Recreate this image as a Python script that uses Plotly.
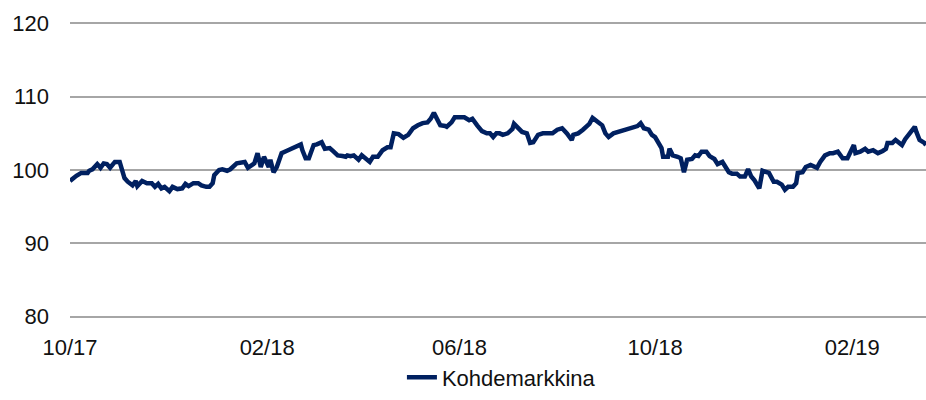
import plotly.graph_objects as go

series_name = "Kohdemarkkina"

dates = [
    "2017-10-01","2017-10-03","2017-10-05","2017-10-08","2017-10-12","2017-10-13","2017-10-15","2017-10-18",
    "2017-10-20","2017-10-22","2017-10-24","2017-10-26","2017-10-29","2017-11-01","2017-11-02","2017-11-04",
    "2017-11-06","2017-11-09","2017-11-11","2017-11-12","2017-11-15","2017-11-18","2017-11-21","2017-11-23",
    "2017-11-25","2017-11-27","2017-11-29","2017-12-02","2017-12-04","2017-12-07","2017-12-10","2017-12-12",
    "2017-12-14","2017-12-17","2017-12-20","2017-12-22","2017-12-25",
    "2017-12-27","2017-12-29","2017-12-30","2018-01-02","2018-01-04","2018-01-07","2018-01-09","2018-01-13",
    "2018-01-16","2018-01-18","2018-01-20","2018-01-23","2018-01-24","2018-01-26","2018-01-28","2018-01-30",
    "2018-02-02","2018-02-03","2018-02-05","2018-02-07","2018-02-10","2018-02-13","2018-02-17","2018-02-19",
    "2018-02-22","2018-02-23","2018-02-25","2018-02-27","2018-03-02","2018-03-04","2018-03-07","2018-03-09",
    "2018-03-12","2018-03-14","2018-03-17","2018-03-20","2018-03-22","2018-03-23",
    "2018-03-25","2018-03-27","2018-03-30","2018-04-01","2018-04-03","2018-04-06","2018-04-08","2018-04-11",
    "2018-04-14","2018-04-17","2018-04-19","2018-04-21","2018-04-24","2018-04-27","2018-04-30","2018-05-03",
    "2018-05-06","2018-05-09","2018-05-12","2018-05-14","2018-05-16","2018-05-18","2018-05-20","2018-05-23",
    "2018-05-24","2018-05-27","2018-05-29","2018-06-01","2018-06-04","2018-06-07","2018-06-09","2018-06-12",
    "2018-06-15","2018-06-18",
    "2018-06-20","2018-06-22","2018-06-24","2018-06-26","2018-06-28","2018-07-01","2018-07-04","2018-07-05",
    "2018-07-08","2018-07-10","2018-07-13","2018-07-15","2018-07-17","2018-07-20","2018-07-23","2018-07-26",
    "2018-07-29","2018-08-01","2018-08-04","2018-08-07","2018-08-10","2018-08-11","2018-08-14","2018-08-17",
    "2018-08-20","2018-08-21","2018-08-23","2018-08-26","2018-08-29","2018-08-31","2018-09-02","2018-09-05",
    "2018-09-08","2018-09-11",
    "2018-09-14","2018-09-17","2018-09-20","2018-09-22","2018-09-24","2018-09-27","2018-09-29","2018-10-01",
    "2018-10-03","2018-10-05","2018-10-06","2018-10-09","2018-10-10","2018-10-12","2018-10-15","2018-10-17",
    "2018-10-19","2018-10-21","2018-10-24","2018-10-26","2018-10-28","2018-10-30","2018-11-02","2018-11-04",
    "2018-11-07","2018-11-09","2018-11-12","2018-11-14","2018-11-16","2018-11-18","2018-11-21","2018-11-23",
    "2018-11-26","2018-11-28","2018-11-30","2018-12-02","2018-12-05","2018-12-07","2018-12-09","2018-12-11",
    "2018-12-14",
    "2018-12-16","2018-12-19","2018-12-21","2018-12-23","2018-12-26","2018-12-28","2018-12-29","2019-01-01",
    "2019-01-03","2019-01-06","2019-01-08","2019-01-10","2019-01-12","2019-01-15","2019-01-18","2019-01-20",
    "2019-01-23","2019-01-26","2019-01-29","2019-01-31","2019-02-02","2019-02-03","2019-02-06","2019-02-09",
    "2019-02-11","2019-02-14","2019-02-17","2019-02-20","2019-02-22","2019-02-23","2019-02-26","2019-02-28",
    "2019-03-02","2019-03-04","2019-03-06","2019-03-08","2019-03-10","2019-03-12","2019-03-13","2019-03-15",
    "2019-03-18","2019-03-19",
]

values = [
    98.5, 98.9, 99.2, 99.6, 99.6, 99.9, 100.1, 100.8,
    100.3, 100.9, 100.8, 100.3, 101.1, 101.1, 100.4, 98.9,
    98.4, 97.9, 98.5, 97.8, 98.5, 98.2, 98.2, 97.7,
    98.1, 97.5, 97.7, 97.1, 97.7, 97.4, 97.5, 98.1,
    97.8, 98.2, 98.2, 97.9, 97.7,
    97.7, 98.2, 99.3, 100.0, 100.1, 99.9, 100.1, 100.9,
    101.1, 101.1, 100.3, 100.9, 100.9, 102.3, 100.4, 101.8,
    100.4, 101.4, 99.7, 100.4, 102.3, 102.6, 103.0, 103.3,
    103.5, 102.7, 101.6, 101.6, 103.4, 103.5, 103.8, 102.9,
    103.0, 102.6, 102.0, 101.9, 101.8, 102.0,
    101.9, 102.0, 101.4, 102.0, 101.6, 101.1, 101.8, 101.8,
    102.7, 103.1, 103.1, 105.0, 104.9, 104.4, 104.8, 105.7,
    106.1, 106.4, 106.5, 107.0, 107.8, 107.0, 106.1, 106.0,
    105.9, 106.5, 107.2, 107.2, 107.2, 106.8, 107.0, 106.1,
    105.3, 105.0,
    105.0, 104.5, 105.0, 105.0, 104.8, 105.0, 105.6, 106.3,
    105.7, 105.2, 105.0, 103.7, 103.8, 104.8, 105.0, 105.0,
    105.0, 105.5, 105.7, 105.0, 104.1, 104.8, 105.0, 105.5,
    106.0, 106.3, 107.1, 106.5, 106.1, 105.0, 104.5, 105.0,
    105.2, 105.5,
    105.7, 105.9, 106.0, 106.4, 105.7, 105.5, 104.8, 104.5,
    103.8, 103.0, 101.8, 101.8, 102.9, 102.0, 101.8, 101.6,
    99.7, 101.4, 101.5, 102.0, 101.9, 102.5, 102.5, 101.9,
    101.5, 100.8, 101.1, 100.5, 99.7, 99.5, 99.5, 99.1,
    99.1, 100.1, 99.1, 98.6, 97.5, 99.9, 99.7, 99.6,
    98.4,
    98.4, 98.0, 97.3, 97.7, 97.7, 98.2, 99.6, 99.7,
    100.4, 100.7, 100.5, 100.3, 101.1, 102.0, 102.3, 102.3,
    102.5, 101.6, 101.6, 102.5, 103.4, 102.3, 102.5, 102.9,
    102.5, 102.7, 102.3, 102.6, 102.9, 103.7, 103.7, 104.1,
    103.7, 103.4, 104.2, 104.8, 105.5, 105.9, 105.2, 104.1,
    103.7, 103.4,
]

tick_dates = ["2017-10-01", "2018-02-01", "2018-06-01", "2018-10-01", "2019-02-01"]
tick_labels = ["10/17", "02/18", "06/18", "10/18", "02/19"]
y_ticks = [80, 90, 100, 110, 120]

font_family = "Liberation Sans, Arial, sans-serif"

fig = go.Figure()
fig.add_trace(go.Scatter(
    x=dates, y=values, mode="lines", name=series_name,
    line=dict(color="#002060", width=4.5),
))

fig.update_layout(
    width=926, height=400,
    margin=dict(l=70, r=0, t=22, b=82),
    paper_bgcolor="white", plot_bgcolor="white",
    font=dict(family=font_family, size=22, color="#111111"),
    showlegend=True,
    legend=dict(
        orientation="h", x=0.504, xanchor="center", y=-0.272, yanchor="bottom",
        font=dict(size=22), bgcolor="rgba(0,0,0,0)", borderwidth=0,
    ),
    xaxis=dict(
        type="date", range=["2017-10-01", "2019-03-19"],
        tickvals=tick_dates, ticktext=tick_labels,
        showgrid=False, zeroline=False, showline=False, ticks="",
        ticklabelstandoff=14, automargin=False,
    ),
    yaxis=dict(
        range=[79.8, 120.2], tickvals=y_ticks,
        showgrid=True, gridcolor="#a6a6a6", gridwidth=2,
        zeroline=False, showline=False, ticks="",
        ticklabelstandoff=20, automargin=False,
    ),
)

fig.write_html(
    "out.html",
    config={"responsive": False, "displayModeBar": False},
    post_script="document.body.style.margin='0';document.documentElement.style.overflow='hidden';",
)
